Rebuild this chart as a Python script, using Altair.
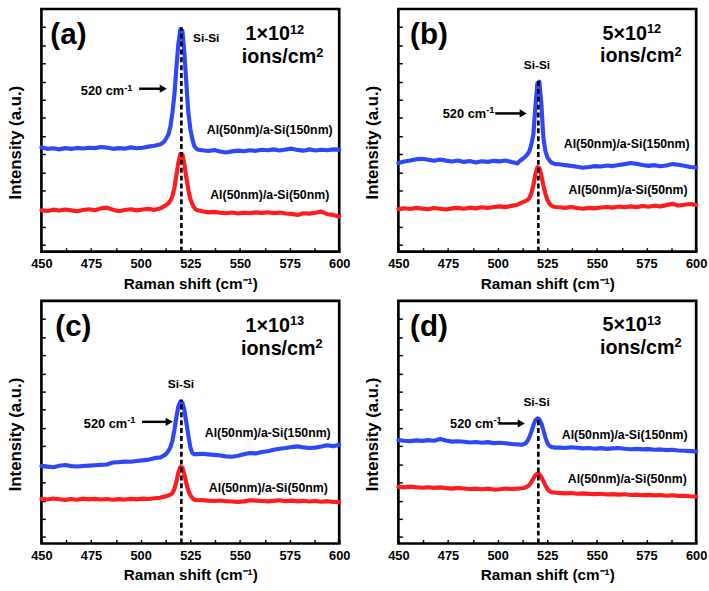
import altair as alt
import pandas as pd

# ---------------- data ----------------
X = [450, 453, 456, 459, 462, 465, 468, 471, 474, 477, 480, 483, 486, 489, 492, 495, 498, 501, 504, 507, 510,
     511, 512, 513, 514, 515, 516, 517, 518, 519, 520, 521, 522, 523, 524, 525, 526, 527, 528, 529,
     531, 534, 537, 540, 543, 546, 549, 552, 555, 558, 561, 564, 567, 570, 573, 576, 579, 582, 585, 588, 591, 594, 597, 600]

BLUE_A = [5.38, 5.30, 5.33, 5.27, 5.34, 5.30, 5.35, 5.32, 5.36, 5.34, 5.40, 5.37, 5.30, 5.34, 5.31, 5.38, 5.33, 5.36, 5.42, 5.47, 5.55,
          5.62, 5.72, 5.90, 6.10, 6.55, 7.30, 8.30, 9.80, 11.10, 11.90, 11.80, 10.60, 8.90, 7.30, 6.40, 5.85, 5.45, 5.32, 5.25,
          5.22, 5.18, 5.23, 5.15, 5.10, 5.16, 5.20, 5.17, 5.22, 5.19, 5.25, 5.22, 5.27, 5.21, 5.26, 5.31, 5.24, 5.20, 5.27, 5.21, 5.25, 5.22, 5.27, 5.26]
RED_A = [1.92, 1.88, 1.95, 1.90, 1.96, 1.91, 1.86, 1.93, 1.97, 1.92, 2.02, 2.06, 1.95, 1.86, 1.93, 1.97, 1.91, 1.96, 1.99, 1.94, 2.03,
         2.08, 2.15, 2.22, 2.30, 2.45, 2.70, 3.15, 3.85, 4.55, 5.02, 5.00, 4.45, 3.70, 3.05, 2.55, 2.25, 2.05, 1.95, 1.90,
         1.86, 1.80, 1.83, 1.78, 1.75, 1.79, 1.74, 1.78, 1.76, 1.80, 1.77, 1.81, 1.76, 1.79, 1.74, 1.72, 1.66, 1.75, 1.73, 1.78, 1.84, 1.70, 1.66, 1.56]

BLUE_B = [4.52, 4.60, 4.66, 4.73, 4.75, 4.70, 4.64, 4.71, 4.65, 4.60, 4.66, 4.58, 4.63, 4.55, 4.62, 4.58, 4.64, 4.61, 4.66, 4.57, 4.50,
          4.62, 4.70, 4.78, 4.88, 5.00, 5.17, 5.55, 6.10, 7.60, 8.90, 9.00, 7.80, 5.95, 5.20, 4.85, 4.68, 4.55, 4.50, 4.46,
          4.45, 4.40, 4.36, 4.31, 4.26, 4.30, 4.35, 4.33, 4.38, 4.35, 4.41, 4.46, 4.52, 4.47, 4.41, 4.36, 4.40, 4.34, 4.38, 4.46, 4.42, 4.37, 4.30, 4.27]
RED_B = [1.98, 2.03, 1.99, 2.05, 2.01, 1.97, 2.04, 2.00, 1.96, 2.02, 2.05, 2.00, 2.06, 2.02, 2.08, 2.04, 2.10, 2.13, 2.09, 2.16, 2.22,
         2.28, 2.33, 2.38, 2.42, 2.48, 2.60, 2.85, 3.30, 3.90, 4.28, 4.25, 3.85, 3.30, 2.85, 2.50, 2.30, 2.18, 2.12, 2.10,
         2.08, 2.05, 2.10, 2.04, 2.00, 2.05, 2.02, 2.07, 2.10, 2.06, 2.12, 2.08, 2.13, 2.09, 2.15, 2.11, 2.17, 2.12, 2.20, 2.27, 2.18, 2.22, 2.26, 2.21]

BLUE_C = [3.90, 3.87, 3.84, 3.92, 3.96, 3.90, 3.88, 3.91, 3.93, 3.95, 3.97, 3.99, 4.10, 4.12, 4.15, 4.14, 4.18, 4.22, 4.26, 4.34, 4.38,
          4.45, 4.50, 4.60, 4.75, 4.95, 5.30, 5.90, 6.60, 7.20, 7.45, 7.40, 7.00, 6.30, 5.60, 4.95, 4.62, 4.55, 4.57, 4.56,
          4.58, 4.55, 4.52, 4.49, 4.44, 4.42, 4.47, 4.55, 4.62, 4.60, 4.68, 4.72, 4.80, 4.86, 4.90, 4.95, 4.99, 4.93, 4.90, 4.92, 4.98, 5.05, 5.00, 5.08]
RED_C = [2.10, 2.06, 2.12, 2.08, 2.04, 2.09, 2.05, 2.11, 2.07, 2.10, 2.06, 2.09, 2.05, 2.08, 2.06, 2.10, 2.07, 2.11, 2.09, 2.13, 2.16,
         2.20, 2.22, 2.25, 2.28, 2.33, 2.42, 2.65, 3.05, 3.55, 3.85, 3.82, 3.45, 2.95, 2.55, 2.30, 2.15, 2.06, 2.02, 2.02,
         2.03, 2.00, 1.98, 2.01, 1.97, 1.95, 1.93, 1.96, 2.02, 2.00, 1.98, 1.96, 1.99, 2.02, 1.97, 2.00, 1.96, 1.99, 1.95, 1.98, 1.94, 1.97, 1.93, 1.92]

BLUE_D = [5.33, 5.30, 5.28, 5.32, 5.29, 5.33, 5.30, 5.40, 5.31, 5.25, 5.27, 5.24, 5.20, 5.23, 5.19, 5.22, 5.17, 5.19, 5.16, 5.12, 5.10,
          5.09, 5.08, 5.10, 5.15, 5.28, 5.50, 5.80, 6.15, 6.42, 6.52, 6.48, 6.25, 5.90, 5.50, 5.18, 5.02, 4.96, 4.94, 4.92,
          4.92, 4.90, 4.94, 4.91, 4.88, 4.90, 4.86, 4.89, 4.85, 4.88, 4.90, 4.86, 4.83, 4.85, 4.82, 4.84, 4.80, 4.82, 4.78, 4.80, 4.76, 4.75, 4.73, 4.71]
RED_D = [2.76, 2.73, 2.77, 2.74, 2.71, 2.74, 2.70, 2.73, 2.69, 2.66, 2.70, 2.67, 2.64, 2.66, 2.63, 2.66, 2.61, 2.63, 2.67, 2.64, 2.66,
         2.67, 2.68, 2.70, 2.73, 2.78, 2.87, 3.02, 3.22, 3.40, 3.48, 3.45, 3.30, 3.08, 2.85, 2.65, 2.52, 2.47, 2.45, 2.44,
         2.43, 2.40, 2.42, 2.38, 2.40, 2.37, 2.36, 2.38, 2.34, 2.36, 2.33, 2.35, 2.31, 2.33, 2.30, 2.32, 2.29, 2.31, 2.27, 2.30, 2.26, 2.27, 2.24, 2.23]

BLUES = [BLUE_A, BLUE_B, BLUE_C, BLUE_D]
REDS = [RED_A, RED_B, RED_C, RED_D]
SERIES = ["Al(50nm)/a-Si(150nm)", "Al(50nm)/a-Si(50nm)"]

# annotations
TAGS = ["(a)", "(b)", "(c)", "(d)"]
TAG_X = [454.5, 455.9, 457.0, 455.9]
TAG_Y = [11.57, 11.54, 11.56, 11.56]
DOSE_BASE = ["1×10", "5×10", "1×10", "5×10"]
DOSE_EXP = ["12", "12", "13", "13"]
DOSE_X = [575.2, 575.2, 575.2, 575.2]          # junction between base and exponent
DOSE_Y = [11.27, 11.32, 11.27, 11.32]          # text baseline
UNIT_BASE = "ions/cm"
UNIT_EXP = "2"
UNIT_X = [588.4, 589.1, 588.1, 589.1]
UNIT_Y = [10.00, 10.06, 10.00, 10.06]
SISI_X = [533.0, 519.8, 520.3, 519.6]
SISI_Y = [11.38, 9.91, 8.43, 7.43]
WAVE_BASE = "520 cm"
WAVE_EXP = "-1"
WAVE_X = [491.7, 494.2, 493.2, 497.9]
WAVE_Y = [8.24, 6.98, 5.98, 5.98]
ARROW_X1 = [499.2, 498.8, 500.7, 500.3]
ARROW_X2 = [513.6, 515.1, 516.6, 514.1]
ARROW_Y = [8.61, 7.25, 6.34, 6.25]
TOP_X = [565.0, 565.0, 564.0, 564.0]
TOP_Y = [6.32, 5.56, 5.71, 5.62]
BOT_X = [565.0, 565.7, 564.3, 565.3]
BOT_Y = [2.76, 3.01, 2.72, 3.17]
PEAK_POS = 520.5
DASH_TOP = [12.0, 9.2, 7.57, 6.61]

XTICKS = [450, 462.5, 475, 487.5, 500, 512.5, 525, 537.5, 550, 562.5, 575, 587.5, 600]
YTICKS = [0, 1, 2, 3, 4, 5, 6, 7, 8, 9, 10, 11, 12]
XDOM = [450, 600]
YDOM = [-0.36, 13.0]

BLUE = "#2f48f5"
RED = "#ff1c1c"
FONT = "Liberation Sans"
W, H = 302, 246


def panel(i):
    xs = alt.Scale(domain=XDOM, nice=False, zero=False)
    ys = alt.Scale(domain=YDOM, nice=False, zero=False)
    xaxis = alt.Axis(values=XTICKS, labelExpr="datum.value % 25 === 0 ? datum.label : ''",
                     tickSize=4, offset=-4, domain=False, grid=False, labelPadding=6,
                     labelFlush=False, labelOverlap=False, title="Raman shift (cm⁻¹)",
                     titlePadding=6, labelFontSize=13, titleFontSize=15.5)
    yaxis = alt.Axis(values=YTICKS, labels=False, tickSize=4, offset=-4, domain=False, grid=False,
                     title="Intensity (a.u.)", titlePadding=16, titleFontSize=17, titleY=135)
    XE = alt.X("x:Q", scale=xs, axis=xaxis, title="Raman shift (cm⁻¹)")
    YE = alt.Y("y:Q", scale=ys, axis=yaxis, title="Intensity (a.u.)")

    n = len(X)
    df = pd.DataFrame({"x": X + X, "y": BLUES[i] + REDS[i], "s": [SERIES[0]] * n + [SERIES[1]] * n})
    lines = alt.Chart(df).mark_line(strokeWidth=4.2, strokeJoin="round", strokeCap="round").encode(
        x=XE, y=YE,
        color=alt.Color("s:N", scale=alt.Scale(domain=SERIES, range=[BLUE, RED]), legend=None),
    )
    dash = alt.Chart(pd.DataFrame({"x": [PEAK_POS], "y": [YDOM[0]], "y2": [DASH_TOP[i]]})).mark_rule(
        color="black", strokeWidth=2.7, strokeDash=[5, 3]).encode(x=XE, y=YE, y2="y2:Q")
    arr = alt.Chart(pd.DataFrame({"x": [ARROW_X1[i]], "x2": [ARROW_X2[i] - 3], "y": [ARROW_Y[i]]})).mark_rule(
        color="black", strokeWidth=2.5).encode(x=XE, x2="x2:Q", y=YE)
    head = alt.Chart(pd.DataFrame({"x": [ARROW_X2[i] - 2.2], "y": [ARROW_Y[i]]})).mark_point(
        shape="triangle-right", size=70, filled=True, color="black", opacity=1).encode(x=XE, y=YE)

    def txt(xv, yv, t, size, align="center", baseline="middle", dy=0):
        return alt.Chart(pd.DataFrame({"x": [xv], "y": [yv], "t": [t]})).mark_text(
            font=FONT, fontWeight="bold", fontSize=size, align=align, baseline=baseline, dy=dy,
            color="black").encode(x=XE, y=YE, text="t:N")

    texts = [
        txt(TAG_X[i], TAG_Y[i], TAGS[i], 30, "left"),
        txt(DOSE_X[i], DOSE_Y[i], DOSE_BASE[i], 20, "right", "alphabetic"),
        txt(DOSE_X[i], DOSE_Y[i], DOSE_EXP[i], 13, "left", "alphabetic", -7),
        txt(UNIT_X[i], UNIT_Y[i], UNIT_BASE, 20, "right", "alphabetic"),
        txt(UNIT_X[i], UNIT_Y[i], UNIT_EXP, 13, "left", "alphabetic", -7),
        txt(SISI_X[i], SISI_Y[i], "Si-Si", 12),
        txt(WAVE_X[i], WAVE_Y[i], WAVE_BASE, 13, "right", "alphabetic"),
        txt(WAVE_X[i], WAVE_Y[i], WAVE_EXP, 9.5, "left", "alphabetic", -5),
        txt(TOP_X[i], TOP_Y[i], SERIES[0], 12.5),
        txt(BOT_X[i], BOT_Y[i], SERIES[1], 12.5),
    ]
    return alt.layer(lines, dash, arr, head, *texts).properties(width=W, height=H)


row1 = alt.hconcat(panel(0), panel(1), spacing=10)
row2 = alt.hconcat(panel(2), panel(3), spacing=10)
chart = alt.vconcat(row1, row2, spacing=6).properties(
    padding={"left": 5, "top": 3, "right": 0, "bottom": 0}
).configure_view(stroke="black", strokeWidth=2.7).configure_axis(
    labelFont=FONT, titleFont=FONT, labelFontWeight="bold", titleFontWeight="bold",
    labelColor="black", titleColor="black", tickColor="black", tickWidth=1.5
)

chart.save("out.html", embed_options={"renderer": "svg", "actions": False})
